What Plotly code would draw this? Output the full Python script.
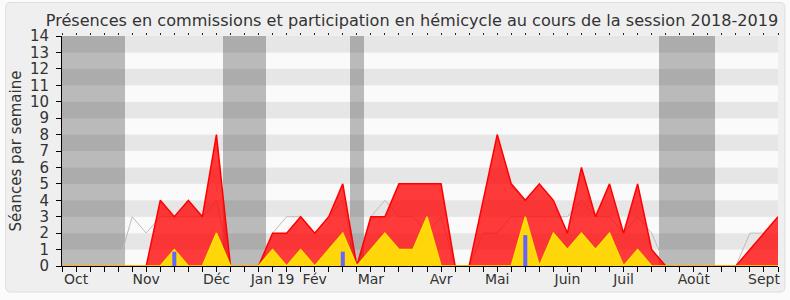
import plotly.graph_objects as go

# ---- data (one value per week of the 2018-2019 session) ----
weeks = list(range(52))
commissions = [0, 0, 0, 0, 0, 0, 0, 4, 3, 4, 3, 8, 0, 0, 0, 2, 2, 3, 2, 3,
               5, 0, 3, 3, 5, 5, 5, 5, 0, 0, 4, 8, 5, 4, 5, 4, 2, 6, 3, 5,
               2, 5, 1, 0, 0, 0, 0, 0, 0, 1, 2, 3]
hemicycle = [0, 0, 0, 0, 0, 0, 0, 0, 1, 0, 0, 2, 0, 0, 0, 1, 0, 1, 0, 1,
             2, 0, 1, 2, 1, 1, 3, 0, 0, 0, 0, 0, 0, 3, 0, 2, 1, 2, 1, 2,
             0, 1, 0, 0, 0, 0, 0, 0, 0, 0, 0, 0]
median = [0, 0, 0, 0, 0, 3, 2, 3, 3, 3, 3, 4, 0, 0, 0, 2, 3, 3, 2, 3,
          4, 0, 3, 4, 3, 3, 2, 3, 0, 0, 2, 2, 3, 3, 3, 3, 3, 4, 3, 3,
          2, 3, 2, 0, 0, 0, 0, 0, 0, 2, 2, 3]
blue_weeks = [8, 20, 33]
blue_values = [0.87, 0.87, 1.88]
vacation_weeks = [0, 1, 2, 3, 4, 12, 13, 14, 21, 43, 44, 45, 46]
month_weeks = [1, 6, 11, 15, 18, 22, 27, 31, 36, 40, 45, 50]
month_labels = ["Oct", "Nov", "Déc", "Jan 19", "Fév", "Mar", "Avr", "Mai",
                "Juin", "Juil", "Août", "Sept"]
y_max = 14

W, H = 790, 300
ML, MR, MT, MB = 62, 10, 36, 34
PW, PH = W - ML - MR, H - MT - MB

FONT = "DejaVu Sans"
TXT = "#333333"

fig = go.Figure()

# vacation bands
fig.add_trace(go.Bar(x=vacation_weeks, y=[y_max] * len(vacation_weeks), width=1,
                     marker=dict(color="rgba(40,40,40,0.30)", line=dict(width=0)),
                     hoverinfo="skip", showlegend=False))

# median grey line
fig.add_trace(go.Scatter(x=weeks, y=median, mode="lines",
                         line=dict(color="#bdbdbd", width=1),
                         hoverinfo="skip", showlegend=False))
# commissions (red)
fig.add_trace(go.Scatter(x=weeks, y=commissions, mode="lines", fill="tozeroy",
                         fillcolor="rgba(255,0,0,0.77)",
                         line=dict(color="#ff0000", width=1.5),
                         hoverinfo="skip", showlegend=False))
# hemicycle (yellow)
fig.add_trace(go.Scatter(x=weeks, y=hemicycle, mode="lines", fill="tozeroy",
                         fillcolor="#ffd60a",
                         line=dict(color="#ffe400", width=1.5),
                         hoverinfo="skip", showlegend=False))
# blue bars drawn as thick vertical segments
bx, by = [], []
for w, v in zip(blue_weeks, blue_values):
    bx += [w, w, None]
    by += [0, v, None]
fig.add_trace(go.Scatter(x=bx, y=by, mode="lines",
                         line=dict(color="#6464ff", width=4),
                         hoverinfo="skip", showlegend=False))

# dummy trace for the top tick axis
fig.add_trace(go.Scatter(x=[0], y=[0], xaxis="x2", mode="markers",
                         marker=dict(opacity=0), hoverinfo="skip", showlegend=False))

shapes = []
# rounded outer panel
def px(xp):
    return (xp - ML) / PW
def py(yp):
    return (H - MB - yp) / PH
x0, x1, y0, y1, r = 5.5, 787, 2.5, 292, 5
path = (f"M{px(x0+r)},{py(y0)} L{px(x1-r)},{py(y0)} Q{px(x1)},{py(y0)} {px(x1)},{py(y0+r)} "
        f"L{px(x1)},{py(y1-r)} Q{px(x1)},{py(y1)} {px(x1-r)},{py(y1)} "
        f"L{px(x0+r)},{py(y1)} Q{px(x0)},{py(y1)} {px(x0)},{py(y1-r)} "
        f"L{px(x0)},{py(y0+r)} Q{px(x0)},{py(y0)} {px(x0+r)},{py(y0)} Z")
shapes.append(dict(type="path", path=path, xref="paper", yref="paper",
                   fillcolor="#efefef", line=dict(color="#dedede", width=1),
                   layer="below"))
# horizontal stripes
for k in range(y_max):
    shapes.append(dict(type="rect", xref="x domain", yref="y", x0=0, x1=1,
                       y0=k, y1=k + 1, layer="below", line=dict(width=0),
                       fillcolor="#e6e6e6" if k % 2 == 1 else "#fafafa"))

fig.update_layout(
    width=W, height=H,
    margin=dict(l=ML, r=MR, t=MT, b=MB),
    paper_bgcolor="#fbfbfb", plot_bgcolor="rgba(0,0,0,0)",
    shapes=shapes,
    barmode="overlay", bargap=0,
    title=dict(text="Présences en commissions et participation en hémicycle au cours de la session 2018-2019",
               font=dict(family=FONT, size=16.1, color=TXT),
               x=0.5215, xref="container", xanchor="center",
               y=0.932, yref="container", yanchor="middle"),
    xaxis=dict(range=[0, 51], tickmode="array", tickvals=month_weeks, ticktext=month_labels,
               ticks="outside", ticklen=5, tickcolor="#000", showgrid=False, zeroline=False,
               showline=True, linecolor="#000", linewidth=1, ticklabelstandoff=-5,
               minor=dict(tickmode="linear", tick0=0, dtick=1, ticks="outside", ticklen=5,
                          tickcolor="#000", showgrid=False),
               tickfont=dict(family=FONT, size=14, color=TXT)),
    xaxis2=dict(range=[0, 51], overlaying="x", side="top", tickmode="linear", tick0=0, dtick=1,
                ticks="outside", ticklen=2, tickcolor="#222", showticklabels=False,
                showgrid=False, zeroline=False, showline=False),
    yaxis=dict(range=[0, y_max], tickmode="linear", tick0=0, dtick=1,
               ticks="outside", ticklen=5, tickcolor="#000", showgrid=False, zeroline=False,
               showline=True, linecolor="#000", linewidth=1, ticklabelstandoff=4,
               tickfont=dict(family=FONT, size=15, color=TXT),
               title=dict(text="Séances par semaine", standoff=4,
                          font=dict(family=FONT, size=15, color=TXT))),
)

fig.write_html("out.html")
